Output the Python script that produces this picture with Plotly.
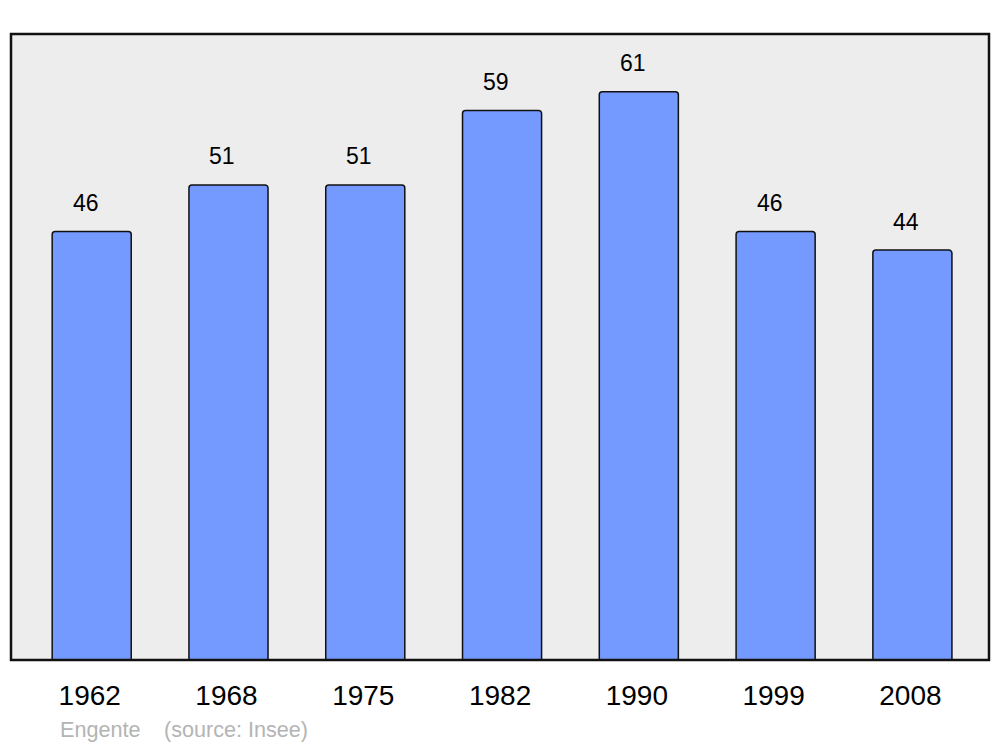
import plotly.graph_objects as go

years = ["1962", "1968", "1975", "1982", "1990", "1999", "2008"]
population = [46, 51, 51, 59, 61, 46, 44]

fig = go.Figure()
fig.add_trace(go.Bar(
    x=years, y=population, width=0.578,
    marker=dict(color="#7499ff", line=dict(color="#111111", width=1.5), cornerradius=3),
    hoverinfo="skip",
))

for i, v in enumerate(population):
    fig.add_annotation(x=i, y=v, text=str(v), showarrow=False, xshift=-6, yshift=28.5,
                       yanchor="middle", font=dict(family="Liberation Sans, Arial", size=23, color="#000"))

fig.add_annotation(xref="paper", yref="paper", x=(58 - 11) / 978, y=(660 - 729) / 626,
                   xanchor="left", yanchor="middle", text="Engente", showarrow=False,
                   font=dict(family="Liberation Sans, Arial", size=21.6, color="#b4b4b4"))
fig.add_annotation(xref="paper", yref="paper", x=(162 - 11) / 978, y=(660 - 729) / 626,
                   xanchor="left", yanchor="middle", text="(source: Insee)", showarrow=False,
                   font=dict(family="Liberation Sans, Arial", size=21.6, color="#b4b4b4"))

fig.add_shape(type="rect", xref="paper", yref="paper", x0=0, x1=1, y0=0, y1=1,
              line=dict(color="#111111", width=2.5), layer="above")

fig.update_layout(
    width=1000, height=747,
    margin=dict(l=11, r=11, t=34, b=87),
    paper_bgcolor="white", plot_bgcolor="#ededed",
    showlegend=False,
    xaxis=dict(type="category", range=[-0.59, 6.56], showgrid=False, zeroline=False,
               ticks="", ticklabelstandoff=16, ticklabelshift=-2,
               tickfont=dict(family="Liberation Sans, Arial", size=28, color="#000")),
    yaxis=dict(range=[0, 67.2], showgrid=False, zeroline=False, showticklabels=False, ticks=""),
)

fig.write_html("out.html", config={"displayModeBar": False},
               post_script="document.body.style.margin='0';")
